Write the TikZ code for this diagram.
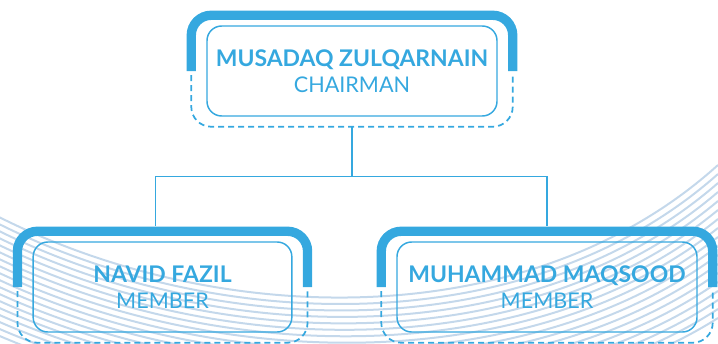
\documentclass[tikz,border=0pt]{standalone}
\usepackage{fontspec}
\setmainfont{Lato}
\usetikzlibrary{positioning,calc}

\definecolor{cardblue}{HTML}{35A8DF}
\definecolor{wavegray}{HTML}{C4D8EB}

\newcommand{\personname}[1]{{\fontsize{17.2}{20}\selectfont\bfseries #1}}
\newcommand{\personrole}[1]{{\fontsize{16.2}{20}\selectfont #1}}

\begin{document}
\begin{tikzpicture}
[x=0.75pt, y=-0.75pt,
% STYLES
% The card style is used to draw the inner box holding name and role
card/.style={rectangle, draw=cardblue, line width=1.1pt, rounded corners=11pt, minimum height=67.5pt, inner sep=0pt, align=center, text=cardblue, font=\fontsize{16}{19.5}\selectfont},
% The bracket style is used to draw the thick arch over each card
bracket/.style={draw=cardblue, line width=7pt, rounded corners=15pt},
% The dashframe style is used to draw the dashed lower half round each card
dashframe/.style={draw=cardblue, line width=1.3pt, dash pattern=on 4.5pt off 3pt, rounded corners=15pt},
link/.style={draw=cardblue, line width=1.1pt},
wave/.style={draw=wavegray, line width=1.5pt}]

\useasboundingbox (0,0) rectangle (718,343);

% Background waves
\begin{scope}
  \clip (0,0) rectangle (718,343);
  \foreach \i in {0,...,17}
    \draw[wave] (-5,215+7*\i) .. controls (220,330+6*\i) and (530,335+6*\i) .. (718,165+9*\i);
\end{scope}

% Draw cards
\node [card, minimum width=217.5pt] (chairman) at (352,71) {\personname{MUSADAQ ZULQARNAIN}\\ \personrole{CHAIRMAN}};
\node [card, minimum width=194pt] (navid) at (162.5,287) {\personname{NAVID FAZIL}\\ \personrole{MEMBER}};
\node [card, minimum width=225pt] (maqsood) at (547,287) {\personname{MUHAMMAD MAQSOOD}\\ \personrole{MEMBER}};

% Arches and dashed frames
\foreach \card in {chairman, navid, maqsood} {
  \draw[bracket] ($(\card.west)+(-15,0)$) |- ($(\card.north)+(0,-10)$) -| ($(\card.east)+(15,0)$);
  \draw[dashframe] ($(\card.west)+(-15,4)$) |- ($(\card.south)+(0,10)$) -| ($(\card.east)+(15,4)$);
}

% Draw the links between cards
\coordinate (chairman-foot) at ($(chairman.south)+(0,10)$);
\coordinate (navid-top) at ($(navid.north)+(-7,-15)$);
\coordinate (maqsood-top) at ($(maqsood.north)+(0,-15)$);
\draw[link] (chairman-foot) -- ++(0,50) coordinate (junction) -| (navid-top);
\draw[link] (junction) -| (maqsood-top);

\end{tikzpicture}
\end{document}
